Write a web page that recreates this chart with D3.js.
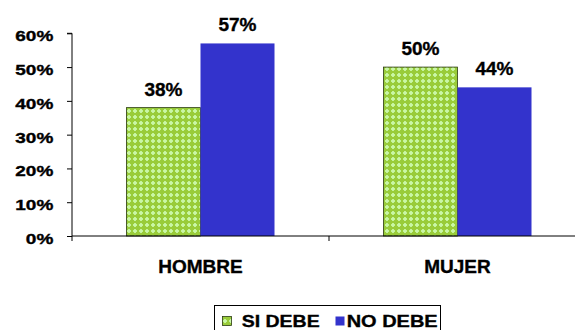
<!DOCTYPE html>
<html><head><meta charset="utf-8">
<script src="https://cdn.jsdelivr.net/npm/d3@7"></script>
<style>body{margin:0;background:#fff}svg{display:block}text{font-family:"Liberation Sans",Arial,sans-serif;font-weight:bold;fill:#000;stroke:#000;stroke-width:0.35px}</style>
</head><body><svg id="c" width="575" height="330"></svg>
<script>
const categories = ["HOMBRE", "MUJER"];
const seriesNames = ["SI DEBE", "NO DEBE"];
const siDebe = [0.38, 0.50];
const noDebe = [0.57, 0.44];
const yTicks = [0, 0.1, 0.2, 0.3, 0.4, 0.5, 0.6];

const svg = d3.select("#c");
const defs = svg.append("defs");
const pat = defs.append("pattern").attr("id","grn").attr("patternUnits","userSpaceOnUse").attr("width",6).attr("height",6);
pat.append("rect").attr("width",6).attr("height",6).attr("fill","#99cc3a");
pat.append("rect").attr("x",1).attr("y",2).attr("width",4).attr("height",2).attr("fill","#c4f49c");
pat.append("rect").attr("x",2).attr("y",1).attr("width",2).attr("height",4).attr("fill","#c4f49c");
pat.append("rect").attr("x",2.5).attr("y",2.5).attr("width",1).attr("height",1).attr("fill","#dcffc8");

const x0 = 72, x1 = 586, yTop = 33.3, yBot = 236;
const x = d3.scaleBand().domain(categories).range([x0, x1]);
const y = d3.scaleLinear().domain([0, 0.6]).range([yBot, yTop]);
const barW = 74;
const pct = d3.format(".0%");

// y axis
const yAxis = d3.axisLeft(y).tickValues(yTicks).tickFormat(pct).tickSize(5);
const gy = svg.append("g").attr("transform",`translate(${x0},0)`).call(yAxis);
gy.attr("font-family",null).attr("font-size",null);
gy.selectAll("text").attr("font-size",15).attr("x",-18.7).attr("dy",null).attr("y",7.5)
  .attr("textLength", d => pct(d).length===2 ? 27.5 : 38).attr("lengthAdjust","spacingAndGlyphs");
gy.selectAll("line").attr("stroke","#000");
gy.select(".domain").attr("stroke","#000").attr("d",`M-5,${yTop}H0V${yBot}`);

// bars
const data = categories.map((c,i)=>({c, vals:[siDebe[i], noDebe[i]]}));
data.forEach(d=>{
  const cx = x(d.c) + x.bandwidth()/2;
  d.vals.forEach((v,j)=>{
    const bx = cx - barW + j*barW;
    svg.append("rect").attr("x",bx).attr("y",y(v)).attr("width",barW).attr("height",yBot-y(v))
      .attr("fill", j===0 ? "url(#grn)" : "#3333cc")
      .attr("stroke", j===0 ? "#2a3a10" : "none").attr("stroke-width",0.8);
    svg.append("text").attr("x",bx+barW/2).attr("y",y(v)-12).attr("text-anchor","middle")
      .attr("font-size",19).text(pct(v));
  });
});

// x axis
svg.append("line").attr("x1",x0).attr("x2",575).attr("y1",yBot).attr("y2",yBot).attr("stroke","#000");
[0,1,2].forEach(i=>{
  const tx = x0 + i*x.bandwidth();
  svg.append("line").attr("x1",tx).attr("x2",tx).attr("y1",yBot).attr("y2",yBot+5).attr("stroke","#000");
});
categories.forEach(c=>{
  svg.append("text").attr("x",x(c)+x.bandwidth()/2).attr("y",272.5).attr("text-anchor","middle").attr("font-size",19).text(c);
});

// legend
const lg = svg.append("g");
lg.append("rect").attr("x",214.5).attr("y",305.5).attr("width",226).attr("height",30).attr("fill","#fff").attr("stroke","#000");
const lx = [222.5, 335.5];
const tx = [241.7, 346.7];
const tw = [78, 91];
seriesNames.forEach((s,i)=>{
  lg.append("rect").attr("x",lx[i]).attr("y",316.5).attr("width",9).attr("height",9)
    .attr("fill", i===0 ? "url(#grn)" : "#3333cc").attr("stroke", i===0 ? "#2a3a10" : "none").attr("stroke-width",0.8);
  lg.append("text").attr("x",tx[i]).attr("y",327.3).attr("font-size",17)
    .attr("textLength",tw[i]).attr("lengthAdjust","spacingAndGlyphs").text(s);
});
</script></body></html>
